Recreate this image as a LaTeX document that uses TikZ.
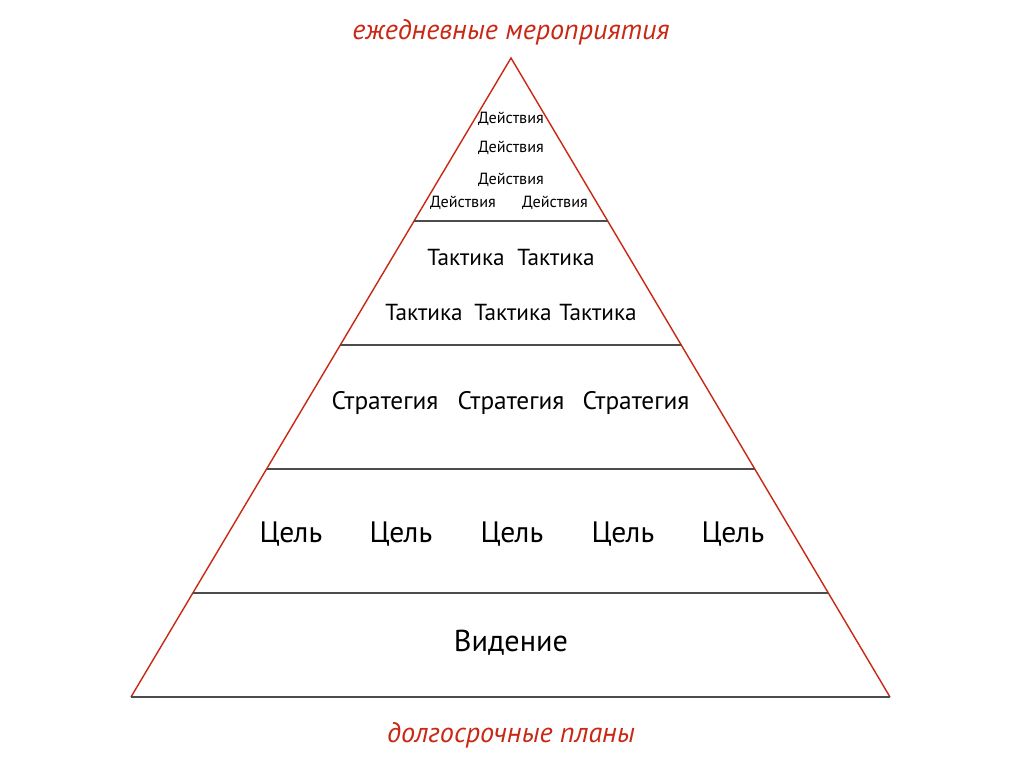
\documentclass[tikz,border=0pt]{standalone}
\usepackage{fontspec}
\setmainfont{PT Sans}
\usetikzlibrary{calc}
\definecolor{pyrred}{RGB}{200,40,20}
\tikzset{
  lbl/.style={text=pyrred, font=\fontsize{8.0}{9}\selectfont\itshape},
  act/.style={font=\fontsize{4.6}{5}\selectfont},
  tac/.style={font=\fontsize{6.6}{7}\selectfont},
  str/.style={font=\fontsize{7.2}{8}\selectfont},
  goal/.style={font=\fontsize{8.4}{9}\selectfont},
  vis/.style={font=\fontsize{8.6}{9}\selectfont},
  tier/.style={draw=black!70, line width=0.3pt}
}
\begin{document}
\begin{tikzpicture}[x=0.01cm, y=-0.01cm]
    \useasboundingbox (0,0) rectangle (1024,768);
    % Outline
    \coordinate (apex) at (511,58);
    \coordinate (bl) at (131,697);
    \coordinate (br) at (890,697);
    \draw [pyrred, line width=0.4pt] (bl) -- (apex) -- (br);
    \draw [tier] (bl) -- (br);
    % Tier lines
    \foreach \y in {221,345,469,593} {
        \draw [tier] ({511-(\y-58)/639*380},\y) -- ({511+(\y-58)/639*379},\y);
    }
    % Labels
    \node [lbl] (top) at (511,32) {ежедневные мероприятия};
    \node [lbl] (bottom) at (511,735) {долгосрочные планы};
    % Actions
    \node [act] (a1) at (511,119) {Действия};
    \node [act] (a2) at (511,148) {Действия};
    \node [act] (a3) at (511,180) {Действия};
    \node [act] (a4) at (463,203) {Действия};
    \node [act] (a5) at (555,203) {Действия};
    % Tactics
    \node [tac] (t1) at (466,257) {Тактика};
    \node [tac] (t2) at (556,257) {Тактика};
    \node [tac] (t3) at (424,312) {Тактика};
    \node [tac] (t4) at (513,312) {Тактика};
    \node [tac] (t5) at (598,312) {Тактика};
    % Strategies
    \node [str] (s1) at (385,403) {Стратегия};
    \node [str] (s2) at (511,403) {Стратегия};
    \node [str] (s3) at (636,403) {Стратегия};
    % Goals
    \foreach \x [count=\i] in {291,401,512,623,733} {
        \node [goal] (g\i) at (\x,534) {Цель};
    }
    % Vision
    \node [vis] (vision) at (511,643) {Видение};
\end{tikzpicture}
\end{document}
